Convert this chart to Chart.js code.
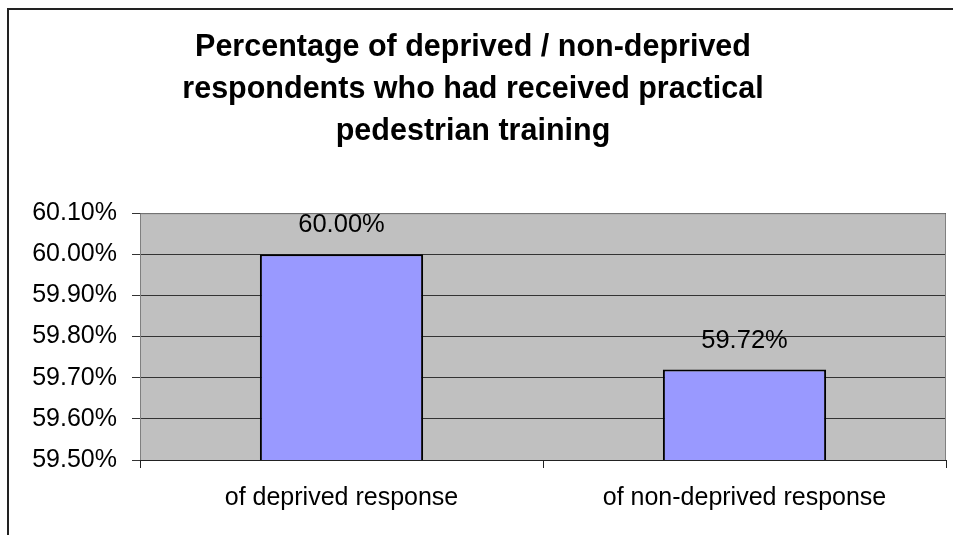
<!DOCTYPE html>
<html>
<head>
<meta charset="utf-8">
<script src="https://cdn.jsdelivr.net/npm/chart.js@4/dist/chart.umd.min.js"></script>
<style>
  html, body { margin: 0; padding: 0; background: #fff; overflow: hidden; }
  #wrap { position: relative; width: 953px; height: 535px; }
  #frame { position: absolute; left: 7px; top: 8px; width: 2000px; height: 2000px;
           border-left: 2px solid #222; border-top: 2px solid #222; box-sizing: border-box; }
  canvas { position: absolute; left: 0; top: 0; }
</style>
</head>
<body>
<div id="wrap">
  <div id="frame"></div>
  <canvas id="c" width="953" height="535"></canvas>
</div>
<script>
const titleLines = ["Percentage of deprived / non-deprived", "respondents who had received practical", "pedestrian training"];
const categories = ["of deprived response", "of non-deprived response"];
const values = [60.00, 59.72];
const yMin = 59.5, yMax = 60.1, yStep = 0.1;

const FONT = "'Liberation Sans', Arial, sans-serif";

const plotBg = {
  id: 'plotBg',
  beforeDraw(chart) {
    const {ctx, chartArea: a} = chart;
    ctx.save();
    ctx.fillStyle = '#c0c0c0';
    ctx.fillRect(a.left, a.top, a.right - a.left, a.bottom - a.top);
    ctx.restore();
  },
  afterDatasetsDraw(chart) {
    const {ctx, chartArea: a} = chart;
    ctx.save();
    ctx.strokeStyle = '#808080';
    ctx.lineWidth = 1;
    ctx.beginPath();
    ctx.moveTo(a.left + 0.5, a.bottom);
    ctx.lineTo(a.left + 0.5, a.top + 0.5);
    ctx.lineTo(a.right - 0.5, a.top + 0.5);
    ctx.lineTo(a.right - 0.5, a.bottom);
    ctx.stroke();
    ctx.strokeStyle = '#222';
    ctx.beginPath();
    ctx.moveTo(a.left, a.bottom + 0.5);
    ctx.lineTo(a.right, a.bottom + 0.5);
    ctx.stroke();
    const meta = chart.getDatasetMeta(0);
    ctx.fillStyle = '#000';
    ctx.font = "25.5px " + FONT;
    ctx.textAlign = 'center';
    ctx.textBaseline = 'middle';
    meta.data.forEach((bar, i) => {
      ctx.fillText(values[i].toFixed(2) + '%', bar.x, bar.y - 29);
    });
    ctx.restore();
  }
};

new Chart(document.getElementById('c'), {
  type: 'bar',
  data: {
    labels: categories,
    datasets: [{
      data: values,
      backgroundColor: '#9999ff',
      borderColor: '#000',
      borderWidth: 2,
      borderSkipped: false,
      categoryPercentage: 1.0,
      barPercentage: 0.405
    }]
  },
  options: {
    responsive: false,
    animation: false,
    devicePixelRatio: 1,
    layout: { padding: { left: 0, right: 7, top: 0, bottom: 0 } },
    plugins: {
      legend: { display: false },
      tooltip: { enabled: false },
      title: {
        display: true,
        text: titleLines,
        color: '#000',
        font: { family: FONT, size: 30.5, weight: 'bold', lineHeight: 1.39 },
        padding: { top: 26, bottom: 60 }
      }
    },
    scales: {
      x: {
        grid: { display: true, drawOnChartArea: false, drawTicks: true, tickLength: 8, color: '#222', offset: true },
        border: { display: false },
        ticks: { color: '#000', font: { family: FONT, size: 25 }, padding: 15, maxRotation: 0 },
        afterFit(s) { s.height = 75; }
      },
      y: {
        min: yMin, max: yMax,
        grid: { color: '#333', lineWidth: 1, drawTicks: true, tickLength: 8 },
        border: { display: false },
        ticks: {
          stepSize: yStep,
          color: '#000',
          font: { family: FONT, size: 25 },
          padding: 15,
          callback: v => Number(v).toFixed(2) + '%'
        },
        afterFit(s) { s.width = 140; }
      }
    }
  },
  plugins: [plotBg]
});
</script>
</body>
</html>
